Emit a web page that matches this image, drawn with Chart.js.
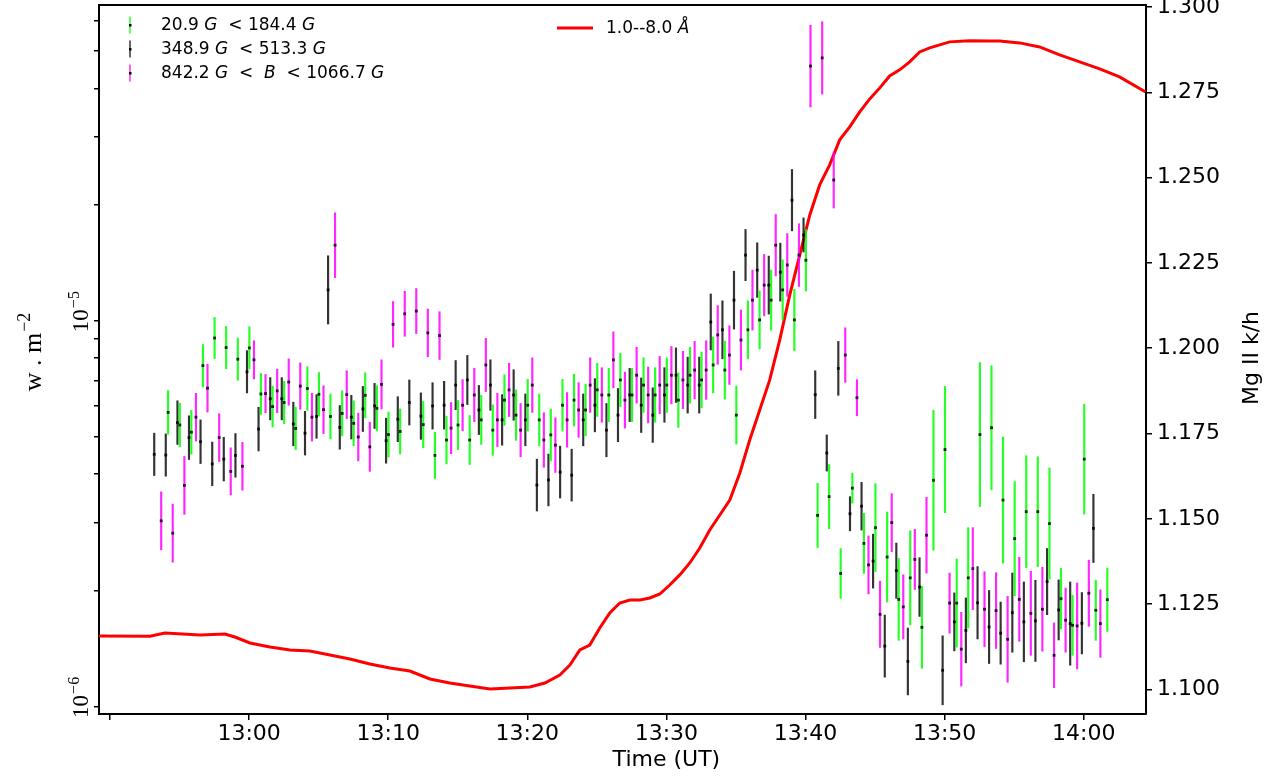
<!DOCTYPE html>
<html><head><meta charset="utf-8">
<script src="https://cdn.jsdelivr.net/npm/chart.js@4/dist/chart.umd.min.js"></script>
<style>html,body{margin:0;padding:0;background:#fff;}canvas{display:block;}</style>
</head><body>
<canvas id="c" width="1274" height="780"></canvas>
<script>
// ---------- DATA (time in minutes after 12:00 UT) ----------
const goesTime = [49.21,52.87,53.95,56.47,58.26,58.98,60.06,61.50,62.94,64.37,65.81,67.25,68.68,70.12,71.56,73.00,74.43,75.87,77.31,78.75,80.18,81.26,82.34,83.06,83.78,84.49,85.21,85.93,86.65,87.37,88.09,88.81,89.53,90.24,90.96,91.68,92.40,93.12,93.84,94.56,95.28,95.99,96.71,97.43,98.15,98.87,99.59,100.31,101.02,101.74,102.46,103.18,103.90,104.62,105.34,106.05,106.77,107.49,108.21,108.93,109.65,110.37,111.80,113.24,113.96,115.40,116.83,118.27,119.71,121.15,122.58,124.45];
const goesFlux = [1.522e-6,1.52e-6,1.55e-6,1.531e-6,1.54e-6,1.513e-6,1.46e-6,1.426e-6,1.40e-6,1.392e-6,1.359e-6,1.327e-6,1.288e-6,1.258e-6,1.235e-6,1.178e-6,1.15e-6,1.13e-6,1.11e-6,1.116e-6,1.123e-6,1.15e-6,1.206e-6,1.28e-6,1.40e-6,1.442e-6,1.597e-6,1.746e-6,1.853e-6,1.887e-6,1.887e-6,1.91e-6,1.956e-6,2.064e-6,2.192e-6,2.354e-6,2.574e-6,2.867e-6,3.135e-6,3.428e-6,4.027e-6,4.905e-6,5.868e-6,7.02e-6,8.913e-6,1.166e-5,1.48e-5,1.879e-5,2.248e-5,2.533e-5,2.942e-5,3.179e-5,3.476e-5,3.757e-5,4.012e-5,4.309e-5,4.467e-5,4.685e-5,4.973e-5,5.093e-5,5.186e-5,5.28e-5,5.312e-5,5.31e-5,5.31e-5,5.248e-5,5.123e-5,4.886e-5,4.685e-5,4.494e-5,4.282e-5,3.914e-5];

// Mg II k/h sample times (black series); green and magenta are sampled slightly later
const mgTime = [53.18,54.01,54.85,55.68,56.51,57.35,58.18,59.02,59.85,60.68,61.52,62.35,63.18,64.02,64.85,65.68,66.52,67.35,68.18,69.02,69.85,70.69,71.52,72.35,73.19,74.02,74.85,75.69,76.52,77.35,78.19,79.02,79.86,80.69,81.52,82.36,83.19,84.02,84.86,85.69,86.52,87.36,88.19,89.02,89.86,90.69,91.53,92.36,93.19,94.03,94.86,95.69,96.53,97.36,98.19,99.03,99.86,100.70,101.53,102.36,103.20,104.03,104.86,105.70,106.53,107.36,108.20,109.03,109.86,110.70,111.53,112.37,113.20,114.03,114.87,115.70,116.53,117.37,118.20,119.03,119.87,120.70,121.53];
const greenLag = 0.17, magentaLag = 0.50;

const greenVal = [null,1.1812,1.1775,1.1754,1.1949,1.2030,1.2002,1.1968,1.2001,1.1866,1.1829,1.1841,1.1765,1.1882,1.1865,1.1800,1.1809,1.1780,1.1862,1.1824,1.1747,1.1756,null,1.1776,1.1686,1.1731,1.1775,1.1731,1.1790,1.1760,1.1848,1.1804,1.1833,1.1790,1.1746,1.1833,1.1848,1.1819,1.1878,1.1863,1.1907,1.1863,1.1892,1.1863,1.1892,1.1848,1.1921,1.1907,1.1951,1.1936,1.1804,1.2054,1.2083,1.2141,1.2171,1.2083,1.2258,1.1510,1.1565,1.1340,1.1590,1.1428,1.1474,1.1388,1.1264,1.1327,1.1182,1.1613,1.1703,1.1253,1.1327,1.1747,1.1767,1.1555,1.1442,1.1521,1.1521,1.1486,1.1266,1.1188,1.1675,1.1232,1.1263];
const greenErr = [null,.0064,.0064,.0064,.0062,.0060,.0062,.0062,.0062,.0060,.0060,.0062,.0062,.0064,.0064,.0066,.0066,.0066,.0066,.0066,.0066,.0066,null,.0068,.0068,.0070,.0072,.0072,.0072,.0074,.0074,.0074,.0076,.0076,.0076,.0076,.0076,.0076,.0078,.0078,.0078,.0078,.0080,.0080,.0080,.0080,.0082,.0082,.0082,.0085,.0085,.0085,.0085,.0088,.0088,.0090,.0090,.0094,.0094,.0073,.0044,.0088,.0129,.0132,.0120,.0138,.0120,.0205,.0185,.0129,.0147,.0211,.0182,.0185,.0167,.0164,.0161,.0163,.0089,.0088,.0161,.0088,.0093];

const blackVal = [1.1689,1.1687,1.1782,1.1738,1.1726,1.1661,1.1675,1.1686,1.1931,1.1763,1.1852,1.1852,1.1778,1.1751,1.1800,1.2171,1.1768,1.1798,1.1822,1.1831,1.1729,1.1792,1.1841,1.1801,1.1831,1.1833,1.1892,1.1907,1.1819,1.1892,1.1790,1.1863,1.1790,1.1599,1.1614,1.1637,1.1628,1.1790,1.1833,1.1760,1.1804,1.1863,1.1833,1.1804,1.1863,1.1921,1.1892,1.1892,1.2077,1.2054,1.2141,1.2273,1.2229,1.2185,1.2223,1.2434,1.2332,1.1864,1.1693,1.1941,1.1515,1.1537,1.1376,1.1127,1.1348,1.1082,1.1300,null,1.1056,1.1198,1.1173,1.1254,1.1183,1.1165,1.1225,1.1198,1.1201,1.1316,1.1233,1.1193,1.1194,1.1472,null];
const blackErr = [.0062,.0062,.0064,.0064,.0064,.0064,.0064,.0064,.0062,.0064,.0062,.0062,.0064,.0064,.0064,.0100,.0064,.0064,.0066,.0066,.0066,.0066,.0066,.0068,.0068,.0070,.0072,.0072,.0072,.0074,.0074,.0074,.0076,.0076,.0076,.0076,.0076,.0076,.0078,.0078,.0078,.0078,.0080,.0080,.0080,.0080,.0082,.0082,.0082,.0085,.0085,.0075,.0080,.0085,.0085,.0090,.0050,.0070,.0053,.0079,.0050,.0070,.0079,.0091,.0081,.0098,.0086,null,.0101,.0085,.0095,.0106,.0107,.0091,.0116,.0117,.0119,.0097,.0088,.0122,.0090,.0100,null];

const magentaVal = [1.1494,1.1458,1.1598,1.1798,1.1883,1.1738,1.1639,1.1654,1.1966,1.1867,1.1875,1.1901,1.1889,1.1798,1.1820,1.2302,1.1864,1.1740,1.1711,1.1894,1.2070,1.2101,1.2109,1.2045,1.2037,1.1766,1.1833,1.1863,1.1951,1.1790,1.1878,1.1760,1.1892,1.1731,1.1716,1.1790,1.1819,1.1892,1.1863,1.1966,1.1848,1.1921,1.1863,1.1892,1.1921,1.1907,1.1936,1.1936,1.2039,1.1980,1.2024,1.2141,1.2185,1.2302,1.2244,1.2273,1.2827,1.2851,1.2493,1.1980,1.1855,1.1365,1.1220,1.1489,1.1242,1.1381,1.1452,null,1.1253,1.1118,1.1354,1.1235,1.1231,1.1147,1.1264,1.1223,1.1235,1.1100,1.1203,1.1186,1.1282,1.1193,null];
const magentaErr = [.0085,.0085,.0085,.0070,.0070,.0070,.0069,.0070,.0056,.0056,.0064,.0068,.0068,.0070,.0070,.0095,.0070,.0070,.0072,.0072,.0067,.0066,.0066,.0070,.0070,.0075,.0075,.0078,.0078,.0078,.0078,.0078,.0080,.0080,.0080,.0080,.0080,.0080,.0080,.0082,.0082,.0082,.0082,.0084,.0084,.0084,.0084,.0086,.0086,.0086,.0088,.0088,.0090,.0090,.0092,.0092,.0120,.0106,.0082,.0080,.0053,.0085,.0097,.0085,.0094,.0088,.0111,null,.0088,.0108,.0120,.0110,.0111,.0126,.0123,.0123,.0123,.0095,.0094,.0126,.0097,.0099,null];

const seriesLabels = ['20.9 $G$  < 184.4 $G$', '348.9 $G$  < 513.3 $G$', '842.2 $G$  <  $B$  < 1066.7 $G$'];
const goesLabel = '1.0--8.0 $\u00C5$';

const timeTicks = [50,60,70,80,90,100,110,120];
const timeTickLabels = ['', '13:00', '13:10', '13:20', '13:30', '13:40', '13:50', '14:00'];
const fluxTicks = [1e-6,2e-6,3e-6,4e-6,5e-6,6e-6,7e-6,8e-6,9e-6,1e-5,2e-5,3e-5,4e-5,5e-5,6e-5];
const fluxDecades = [[1e-6,'6'],[1e-5,'5']];
const ratioTicks = [1.100,1.125,1.150,1.175,1.200,1.225,1.250,1.275,1.300];

// ---------- STYLE ----------
const SANS = '"DejaVu Sans", Verdana, sans-serif';
const SERIF = '"Liberation Serif", "Times New Roman", serif';
const GREEN = 'rgba(0,255,0,0.85)';
const BLACK = 'rgba(0,0,0,0.8)';
const MAGENTA = 'rgba(255,0,255,0.85)';

function bars(lag, vals, errs) {
  const out = [];
  mgTime.forEach((t, i) => { if (vals[i] != null) out.push({x: t + lag, y: [vals[i] - errs[i], vals[i] + errs[i]]}); });
  return out;
}
function dots() {
  const out = [];
  [[0, blackVal], [greenLag, greenVal], [magentaLag, magentaVal]].forEach(([lag, vals]) => {
    mgTime.forEach((t, i) => { if (vals[i] != null) out.push({x: t + lag, y: vals[i]}); });
  });
  return out;
}

function drawRich(ctx, str, x, y, size, family) {
  let cx = x;
  str.split('$').forEach((p, i) => {
    ctx.font = (i % 2 ? 'italic ' : '') + size + 'px ' + family;
    ctx.fillText(p, cx, y);
    cx += ctx.measureText(p).width;
  });
}

const annot = {
  id: 'annot',
  afterDraw(chart) {
    const c = chart.ctx, a = chart.chartArea;
    c.save();
    c.strokeStyle = '#000'; c.lineWidth = 2;
    c.beginPath(); c.moveTo(a.left - 1, a.top); c.lineTo(a.right + 1, a.top); c.stroke();
    c.fillStyle = '#000';
    const ys = chart.scales.y;
    fluxDecades.forEach(([v, e]) => {
      const py = ys.getPixelForValue(v);
      c.save(); c.translate(88, py); c.rotate(-Math.PI / 2);
      c.textBaseline = 'alphabetic'; c.textAlign = 'left';
      c.font = '23px ' + SERIF;
      const w = c.measureText('10').width;
      c.fillText('10', -w / 2, 0);
      c.font = '16px ' + SERIF;
      c.fillText('\u2212' + e, w / 2 + 1, -9);
      c.restore();
    });
    c.save(); c.translate(41, 352); c.rotate(-Math.PI / 2);
    c.textBaseline = 'alphabetic'; c.textAlign = 'left';
    c.font = '26px ' + SERIF; const w1 = c.measureText('w . m').width;
    c.font = '18px ' + SERIF; const w2 = c.measureText('\u22122').width;
    const s = -(w1 + w2 + 1) / 2;
    c.font = '26px ' + SERIF; c.fillText('w . m', s, 0);
    c.font = '18px ' + SERIF; c.fillText('\u22122', s + w1 + 1, -11);
    c.restore();
    c.save(); c.translate(1258, 358); c.rotate(-Math.PI / 2);
    c.textAlign = 'center'; c.textBaseline = 'alphabetic';
    c.font = '22px ' + SANS; c.fillText('Mg II k/h', 0, 0);
    c.restore();
    c.textAlign = 'center'; c.textBaseline = 'alphabetic';
    c.font = '22px ' + SANS;
    c.fillText('Time (UT)', chart.scales.x.getPixelForValue(90), 766);
    c.textAlign = 'left'; c.textBaseline = 'middle';
    [GREEN, BLACK, MAGENTA].forEach((col, i) => {
      const y = 25 + i * 24;
      c.strokeStyle = col; c.lineWidth = 1.5;
      c.beginPath(); c.moveTo(130, y - 8.5); c.lineTo(130, y + 8.5); c.stroke();
      c.fillStyle = '#000'; c.fillRect(129, y - 1, 2.5, 2.5);
      drawRich(c, seriesLabels[i], 161, y + 1, 17, SANS);
    });
    c.strokeStyle = '#ff0000'; c.lineWidth = 3;
    c.beginPath(); c.moveTo(557, 28); c.lineTo(593, 28); c.stroke();
    c.fillStyle = '#000';
    drawRich(c, goesLabel, 606, 29, 17, SANS);
    c.restore();
  }
};

const tickFont = {family: SANS, size: 22};
new Chart(document.getElementById('c'), {
  type: 'bar',
  data: {
    datasets: [
      {type: 'line', data: goesTime.map((t, i) => ({x: t, y: goesFlux[i]})), xAxisID: 'x', yAxisID: 'y',
       borderColor: '#ff0000', borderWidth: 3, pointRadius: 0, tension: 0, fill: false, order: 10},
      {type: 'bar', data: bars(greenLag, greenVal, greenErr), yAxisID: 'y2', backgroundColor: GREEN,
       barThickness: 1.5, grouped: false, borderWidth: 0, order: 5},
      {type: 'bar', data: bars(0, blackVal, blackErr), yAxisID: 'y2', backgroundColor: BLACK,
       barThickness: 1.5, grouped: false, borderWidth: 0, order: 5},
      {type: 'bar', data: bars(magentaLag, magentaVal, magentaErr), yAxisID: 'y2', backgroundColor: MAGENTA,
       barThickness: 1.5, grouped: false, borderWidth: 0, order: 5},
      {type: 'scatter', data: dots(), yAxisID: 'y2', pointStyle: 'rect', pointRadius: 2,
       backgroundColor: 'rgba(0,0,0,0.85)', borderWidth: 0, order: 1}
    ]
  },
  options: {
    responsive: false, animation: false, devicePixelRatio: 1,
    layout: {padding: {top: 5, left: 0, right: 0, bottom: 0}},
    plugins: {legend: {display: false}, tooltip: {enabled: false}},
    scales: {
      x: {type: 'linear', position: 'bottom', min: 49.21, max: 124.48, offset: false,
          grid: {drawOnChartArea: false, drawTicks: true, tickLength: 6, color: '#000', lineWidth: 1.5, offset: false},
          border: {display: true, color: '#000', width: 2},
          ticks: {font: tickFont, color: '#000', padding: 1, maxRotation: 0, autoSkip: false,
                  callback: (v, i) => timeTickLabels[i]},
          afterBuildTicks: s => { s.ticks = timeTicks.map(v => ({value: v})); },
          afterFit: s => { s.height = 66; s.paddingLeft = 0; s.paddingRight = 0; }},
      y: {type: 'logarithmic', position: 'left', min: 9.556e-7, max: 6.58e-5,
          grid: {drawOnChartArea: false, drawTicks: true, tickLength: 5, color: '#000', lineWidth: 1.5},
          border: {display: true, color: '#000', width: 2},
          ticks: {autoSkip: false, callback: () => ''},
          afterBuildTicks: s => { s.ticks = fluxTicks.map(v => ({value: v})); },
          afterFit: s => { s.width = 99; s.paddingTop = 0; s.paddingBottom = 0; }},
      y2: {type: 'linear', position: 'right', min: 1.0928, max: 1.3006, beginAtZero: false,
           grid: {drawOnChartArea: false, drawTicks: true, tickLength: 6, color: '#000', lineWidth: 1.5},
           border: {display: true, color: '#000', width: 2},
           ticks: {font: tickFont, color: '#000', padding: 5, autoSkip: false,
                   callback: v => v.toFixed(3)},
           afterBuildTicks: s => { s.ticks = ratioTicks.map(v => ({value: v})); },
           afterFit: s => { s.width = 128; s.paddingTop = 0; s.paddingBottom = 0; }}
    }
  },
  plugins: [annot]
});
</script>
</body></html>
